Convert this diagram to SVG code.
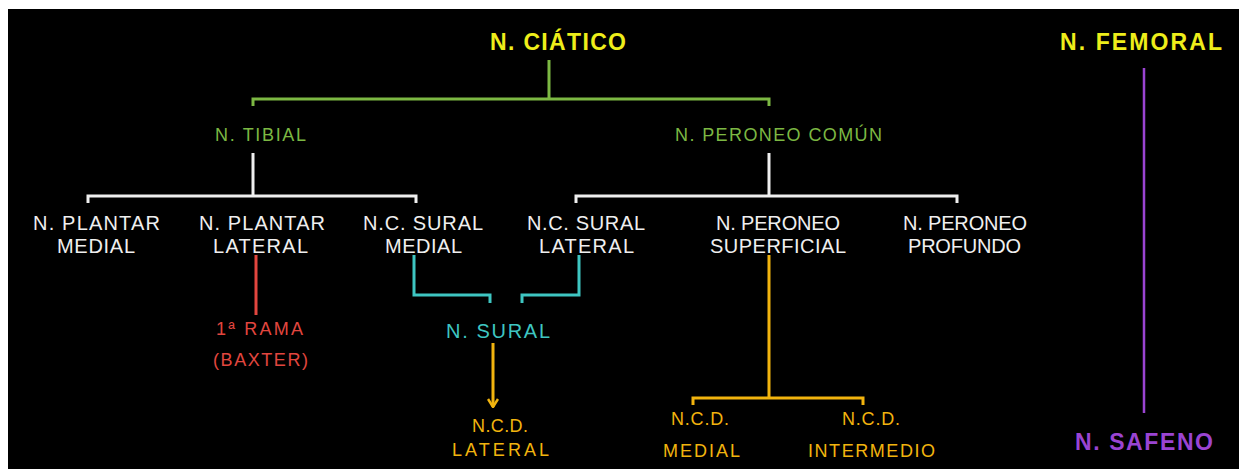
<svg xmlns="http://www.w3.org/2000/svg" width="1239" height="469" viewBox="0 0 1239 469">
<defs>
<style>
text{font-family:"Liberation Sans",Arial,sans-serif;text-anchor:middle;}
.t{font-size:23px;font-weight:bold;fill:#eeee1a;}
.g{font-size:18px;fill:#7cb843;}
.w{font-size:20px;fill:#efefef;}
.r{font-size:18px;fill:#e2463f;}
.c{font-size:20px;fill:#3ec6c2;}
.o{font-size:18px;fill:#f2b40e;}
.p{font-size:23px;font-weight:bold;fill:#9a44d2;}
.lg{stroke:#7cb843;}
.lw{stroke:#efefef;}
.lr{stroke:#e2463f;}
.lc{stroke:#3ec6c2;}
.lo{stroke:#f2b40e;}
.lp{stroke:#9a44d2;}
.cn path,.cn line{fill:none;stroke-width:3;}
</style>
<marker id="ah" viewBox="0 0 10 12" refX="9" refY="6" markerWidth="10" markerHeight="12" markerUnits="userSpaceOnUse" orient="auto">
<path d="M1,1 L9,6 L1,11" fill="none" stroke="#f2b40e" stroke-width="2.5"/>
</marker>
</defs>
<rect x="0" y="0" width="1239" height="469" fill="#ffffff"/>
<rect x="8" y="9" width="1231" height="460" fill="#000000"/>

<g id="connectors" class="cn">
<path class="lg" d="M549,60 V99"/>
<path class="lg" d="M253,106 V99 H769 V106"/>
<path class="lw" d="M253,153 V196"/>
<path class="lw" d="M88,203 V196 H416 V203"/>
<path class="lw" d="M769,153 V196"/>
<path class="lw" d="M576,203 V196 H957 V203"/>
<path class="lr" d="M256,255 V315"/>
<path class="lc" d="M414,255 V295 H490 V303"/>
<path class="lc" d="M579,255 V295 H522 V303"/>
<line class="lo" x1="493" y1="343" x2="493" y2="407" marker-end="url(#ah)"/>
<path class="lo" d="M769,255 V398"/>
<path class="lo" d="M693,405 V398 H863 V405"/>
<path class="lp" d="M1144,68 V413" style="stroke-width:2.5"/>
</g>

<g id="n-ciatico"><text class="t" x="558" y="50" textLength="136">N. CIÁTICO</text></g>
<g id="n-femoral"><text class="t" x="1141" y="50" textLength="162">N. FEMORAL</text></g>
<g id="n-tibial"><text class="g" x="260.5" y="141" textLength="91">N. TIBIAL</text></g>
<g id="n-peroneo-comun"><text class="g" x="778.5" y="141" textLength="207">N. PERONEO COMÚN</text></g>
<g id="n-plantar-medial"><text class="w" x="96.5" y="230" textLength="127">N. PLANTAR</text><text class="w" x="96" y="253" textLength="78">MEDIAL</text></g>
<g id="n-plantar-lateral"><text class="w" x="262" y="230" textLength="126">N. PLANTAR</text><text class="w" x="260.5" y="253" textLength="95">LATERAL</text></g>
<g id="ncs-medial"><text class="w" x="423" y="230" textLength="120">N.C. SURAL</text><text class="w" x="423.5" y="253" textLength="77">MEDIAL</text></g>
<g id="ncs-lateral"><text class="w" x="586" y="230" textLength="118">N.C. SURAL</text><text class="w" x="586.5" y="253" textLength="95">LATERAL</text></g>
<g id="n-peroneo-superficial"><text class="w" x="778" y="230" textLength="124">N. PERONEO</text><text class="w" x="778" y="253" textLength="136">SUPERFICIAL</text></g>
<g id="n-peroneo-profundo"><text class="w" x="965" y="230" textLength="124">N. PERONEO</text><text class="w" x="964.5" y="253" textLength="113">PROFUNDO</text></g>
<g id="rama-baxter"><text class="r" x="259.5" y="335" textLength="87">1ª RAMA</text><text class="r" x="260.5" y="366" textLength="95">(BAXTER)</text></g>
<g id="n-sural"><text class="c" x="498" y="338" textLength="104">N.  SURAL</text></g>
<g id="ncd-lateral"><text class="o" x="500" y="432" textLength="56">N.C.D.</text><text class="o" x="500.5" y="456" textLength="97">LATERAL</text></g>
<g id="ncd-medial"><text class="o" x="700" y="425" textLength="58">N.C.D.</text><text class="o" x="701.5" y="457" textLength="77">MEDIAL</text></g>
<g id="ncd-intermedio"><text class="o" x="871" y="425" textLength="58">N.C.D.</text><text class="o" x="871.5" y="457" textLength="127">INTERMEDIO</text></g>
<g id="n-safeno"><text class="p" x="1144" y="450" textLength="138">N. SAFENO</text></g>
</svg>
